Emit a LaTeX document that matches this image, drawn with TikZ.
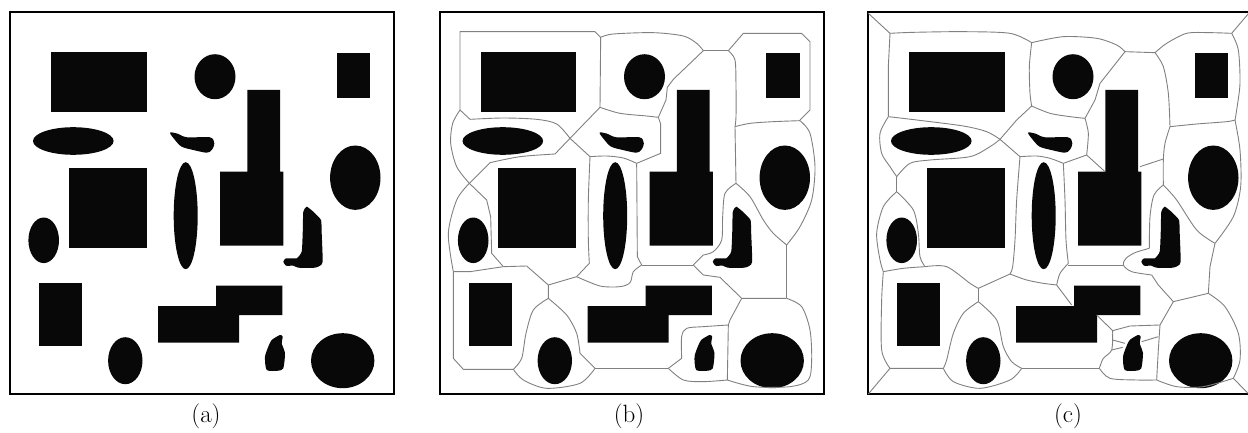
\documentclass[tikz,border=0pt]{standalone}
\usetikzlibrary{positioning}
\tikzset{
    obst/.style={fill=black!97, draw=none},
    cell/.style={draw=black!50, line width=0.9pt, line join=round},
    panel/.style={draw=black, line width=2pt},
    caption/.style={font=\fontsize{25}{30}\selectfont, inner sep=0pt},
}
% the same obstacle field, drawn in the coordinates of panel (a)
\newcommand{\obstacles}{
    \fill[obst] (51,51.7) rectangle (146.7,111.7);
    \fill[obst] (215,76.7) ellipse [x radius=20.5, y radius=22.5];
    \fill[obst] (336.7,53.3) rectangle (370,98.3);
    \fill[obst] (247.3,90) -- (280,90) -- (280,171.7) -- (283.3,171.7) -- (283.3,245.7)
        -- (220,245.7) -- (220,171.7) -- (247.3,171.7) -- cycle;
    \fill[obst] (73.3,141) ellipse [x radius=40.3, y radius=13.8];
    \fill[obst] plot[smooth cycle, tension=0.5] coordinates {(170,132.7) (177,133.5) (187,137.3)
        (210,137.3) (214.3,143.3) (211.7,150) (206.7,152.7) (193.3,150) (181.7,146.7) (175,140)};
    \fill[obst] (68.7,167.7) rectangle (146.7,248.3);
    \fill[obst] (185.7,215.7) ellipse [x radius=12, y radius=53.5];
    \fill[obst] (355.3,177.7) ellipse [x radius=25.2, y radius=32.2];
    \fill[obst] (43.7,240.3) ellipse [x radius=15.3, y radius=22.8];
    \fill[obst] plot[smooth cycle, tension=0.3] coordinates {(303.3,211.7) (306.7,206.7) (313.3,211.7)
        (321,220) (321.7,233.3) (322.7,261.7) (320,265.7) (315,267.7) (298.3,267.7) (293.3,265.7)
        (286,265.7) (283.3,261.7) (286,258.3) (296.7,258.3) (301.7,251.7) (302.7,233.3)};
    \fill[obst] (39,282.7) rectangle (82,345.7);
    \fill[obst] (158,306) -- (216,306) -- (216,285.7) -- (282.3,285.7) -- (282.3,315)
        -- (239,315) -- (239,342.7) -- (158,342.7) -- cycle;
    \fill[obst] (125.3,360.7) ellipse [x radius=17.2, y radius=23.5];
    \fill[obst] plot[smooth cycle, tension=0.4] coordinates {(271.7,340) (280,335) (282.7,336.7)
        (281.7,343.3) (285,353.3) (283.3,368.3) (278.3,370.7) (266.7,370) (265,356.7) (268.3,346.7)};
    \fill[obst] (342.7,360.7) ellipse [x radius=31.7, y radius=27.5];
}

\begin{document}
\begin{tikzpicture}[x=1pt, y=-1pt]
    \useasboundingbox (0,0) rectangle (1248,433);

    % (a) the obstacles alone
    \begin{scope}
        \obstacles
        \draw[panel] (10,12) rectangle (394,394);
    \end{scope}
    \node[caption] (capa) at (206,416) {(a)};

    % (b) cells without the border
    \begin{scope}[shift={(429.5,0)}]
        \obstacles
        \draw[panel] (10,12) rectangle (394,394);
    \end{scope}
    \begin{scope}[shift={(420,0)}, scale=1/3]
        \draw[cell] (120,330) -- (120,95) -- (525,95) -- (542,112) -- (540,322) -- (450,415);
        \draw[cell] (120,330) -- (150,358) plot[smooth] coordinates {(150,358) (250,354) (350,358) (410,372) (450,415)};
        \draw[cell] plot[smooth] coordinates {(120,330) (98,370) (92,430) (110,500) (148,550)};
        \draw[cell] (450,415) -- (405,462) plot[smooth] coordinates {(405,462) (300,470) (210,488)} -- (148,550);
        \draw[cell] plot[smooth] coordinates {(542,112) (580,102) (700,98) (790,108) (830,130) (850,152)};
        \draw[cell] (850,152) -- (925,152);
        \draw[cell] (850,152) -- (760,238) -- (742,262) -- (738,300) -- (715,352);
        \draw[cell] plot[smooth] coordinates {(540,322) (600,340) (680,348) (715,352)};
        \draw[cell] (715,352) -- (722,372) -- (722,460) -- (650,490);
        \draw[cell] (450,415) -- (510,470) plot[smooth] coordinates {(510,470) (560,468) (610,474) (650,490)};
        \draw[cell] plot[smooth] coordinates {(510,470) (505,600) (505,720) (508,790)} -- (470,830);
        \draw[cell] (650,490) -- (652,770) -- (665,795);
        \draw[cell] plot[smooth] coordinates {(665,795) (640,815) (630,848) (600,860) (540,858) (470,830)};
        \draw[cell] (665,795) -- (820,795);
        \draw[cell] (925,152) -- (970,100) -- (1145,100) -- (1170,125) -- (1170,330) -- (1140,360);
        \draw[cell] plot[smooth] coordinates {(925,152) (945,180) (948,260) (948,350) (945,380)};
        \draw[cell] plot[smooth] coordinates {(945,380) (990,370) (1060,365) (1140,362)};
        \draw[cell] plot[smooth] coordinates {(1140,362) (1170,400) (1185,500) (1175,600) (1140,680) (1100,735)};
        \draw[cell] (945,380) -- (948,550);
        \draw[cell] plot[smooth] coordinates {(948,550) (990,590) (1030,660) (1060,700) (1100,735)};
        \draw[cell] (1100,735) -- (1100,895);
        \draw[cell] plot[smooth] coordinates {(948,550) (915,580) (908,650) (905,720) (880,755) (850,765)} -- (820,795);
        \draw[cell] (820,795) -- (850,825) -- (900,832) -- (965,895) -- (1100,895);
        \draw[cell] plot[smooth] coordinates {(1100,895) (1145,920) (1170,990) (1175,1080) (1165,1140) (1110,1160) (1000,1160) (922,1140)};
        \draw[cell] (965,895) -- (930,960) -- (925,975) -- (922,1140);
        \draw[cell] plot[smooth] coordinates {(925,975) (850,980) (800,985) (785,1010) (785,1075)} -- (745,1105);
        \draw[cell] plot[smooth] coordinates {(745,1105) (790,1140) (850,1145) (922,1140)};
        \draw[cell] (525,1105) -- (745,1105);
        \draw[cell] plot[smooth] coordinates {(385,895) (440,945) (470,1000) (480,1060)} -- (525,1105);
        \draw[cell] plot[smooth] coordinates {(525,1105) (480,1150) (380,1165) (310,1140) (280,1108)};
        \draw[cell] (280,1108) -- (130,1108) -- (100,1075) -- (100,815);
        \draw[cell] plot[smooth] coordinates {(385,895) (340,930) (318,1000) (305,1075) (280,1108)};
        \draw[cell] (470,830) -- (385,855) -- (385,895);
        \draw[cell] (385,855) -- (320,798) -- (250,800);
        \draw[cell] plot[smooth] coordinates {(148,550) (110,600) (85,700) (100,815)};
        \draw[cell] (148,550) -- (200,600) -- (212,650) -- (215,760) -- (250,800);
        \draw[cell] (100,815) -- (150,815) -- (250,800);
    \end{scope}
    \node[caption] (capb) at (629,416) {(b)};

    % (c) cells with the border taken in
    \begin{scope}[shift={(858,0)}]
        \obstacles
        \draw[panel] (10,12) rectangle (394,394);
    \end{scope}
    \begin{scope}[shift={(830,0)}, scale=1/3]
        \draw[cell] (115,40) -- (180,100);
        \draw[cell] (1256,40) -- (1205,100);
        \draw[cell] (115,1182) -- (180,1105);
        \draw[cell] (1256,1182) -- (1210,1135);
        \draw[cell] plot[smooth] coordinates {(180,100) (250,97) (400,95) (540,100) (605,128)};
        \draw[cell] (180,100) -- (175,200) -- (175,350);
        \draw[cell] plot[smooth] coordinates {(175,350) (260,360) (400,378) (470,395) (510,418)};
        \draw[cell] plot[smooth] coordinates {(605,128) (598,200) (600,280) (605,318)} -- (560,360) -- (510,418);
        \draw[cell] plot[smooth] coordinates {(175,350) (150,400) (155,460) (180,500) (200,530)};
        \draw[cell] plot[smooth] coordinates {(200,530) (240,490) (300,480) (420,470) (480,440) (510,418)};
        \draw[cell] plot[smooth] coordinates {(605,128) (700,110) (800,115) (860,135) (885,155)};
        \draw[cell] (885,155) -- (975,158);
        \draw[cell] (885,155) -- (810,250) -- (795,300) -- (765,355);
        \draw[cell] plot[smooth] coordinates {(605,318) (660,340) (720,350) (765,355)};
        \draw[cell] plot[smooth] coordinates {(765,355) (775,400) (770,465)};
        \draw[cell] (510,418) -- (570,470) plot[smooth] coordinates {(570,470) (620,468) (660,475) (700,490)} -- (770,465) -- (825,515);
        \draw[cell] plot[smooth] coordinates {(570,470) (560,600) (555,720) (548,800) (540,822)};
        \draw[cell] plot[smooth] coordinates {(700,490) (705,600) (708,720) (715,790)};
        \draw[cell] plot[smooth] coordinates {(715,790) (690,820) (680,855)};
        \draw[cell] plot[smooth] coordinates {(680,855) (640,850) (590,840) (540,822)};
        \draw[cell] (680,855) -- (725,915);
        \draw[cell] (540,822) -- (445,865);
        \draw[cell] (715,795) -- (880,795);
        \draw[cell] plot[smooth] coordinates {(975,158) (1010,130) (1070,100) (1140,98) (1205,100)};
        \draw[cell] plot[smooth] coordinates {(1205,100) (1225,150) (1230,250) (1220,330) (1215,360)};
        \draw[cell] plot[smooth] coordinates {(975,158) (1000,200) (1015,280) (1020,380)};
        \draw[cell] plot[smooth] coordinates {(1020,380) (1100,372) (1190,365) (1215,360)};
        \draw[cell] plot[smooth] coordinates {(1215,360) (1230,450) (1232,560) (1210,650) (1155,730)};
        \draw[cell] plot[smooth] coordinates {(1020,380) (1005,430) (1000,480) (1000,555)};
        \draw[cell] (1000,477) -- (930,500);
        \draw[cell] plot[smooth] coordinates {(1000,555) (1040,600) (1100,690) (1155,730)};
        \draw[cell] plot[smooth] coordinates {(1000,555) (972,585) (960,650) (958,745)};
        \draw[cell] plot[smooth] coordinates {(958,745) (915,758) (888,775) (880,795) (905,815) (965,825)};
        \draw[cell] (965,825) -- (985,855) -- (1030,905) -- (1135,880);
        \draw[cell] (1155,730) -- (1140,800) -- (1135,880);
        \draw[cell] plot[smooth] coordinates {(1135,880) (1185,920) (1225,1000) (1230,1080) (1210,1135)};
        \draw[cell] plot[smooth] coordinates {(1210,1135) (1120,1160) (1040,1160) (980,1140)};
        \draw[cell] (1030,905) -- (990,975) plot[smooth] coordinates {(990,975) (985,1050) (980,1140)};
        \draw[cell] (800,945) -- (848,992) -- (900,978) -- (990,975);
        \draw[cell] plot[smooth] coordinates {(848,992) (845,1050) (820,1075) (808,1105)};
        \draw[cell] plot[smooth] coordinates {(808,1105) (840,1135) (920,1140) (980,1140)};
        \draw[cell] (848,1020) -- (885,1030);
        \draw[cell] (845,1050) -- (878,1042);
        \draw[cell] (935,1025) -- (985,1010);
        \draw[cell] (575,1105) -- (808,1105);
        \draw[cell] plot[smooth] coordinates {(445,905) (500,960) (520,1040) (545,1085) (575,1105)};
        \draw[cell] plot[smooth] coordinates {(575,1105) (540,1140) (450,1165) (370,1145) (340,1105)};
        \draw[cell] (445,865) -- (445,905);
        \draw[cell] plot[smooth] coordinates {(445,905) (400,940) (370,1000) (350,1080) (340,1105)} -- (180,1105);
        \draw[cell] plot[smooth] coordinates {(160,815) (155,900) (155,1050) (180,1105)};
        \draw[cell] plot[smooth] coordinates {(160,815) (220,805) (285,800)};
        \draw[cell] plot[smooth] coordinates {(285,800) (350,800) (420,850) (445,865)};
        \draw[cell] (200,530) -- (200,575);
        \draw[cell] plot[smooth] coordinates {(200,575) (160,620) (140,700) (150,780) (160,815)};
        \draw[cell] plot[smooth] coordinates {(200,575) (250,630) (265,700) (270,770) (285,800)};
    \end{scope}
    \node[caption] (capc) at (1068,416) {(c)};
\end{tikzpicture}
\end{document}
